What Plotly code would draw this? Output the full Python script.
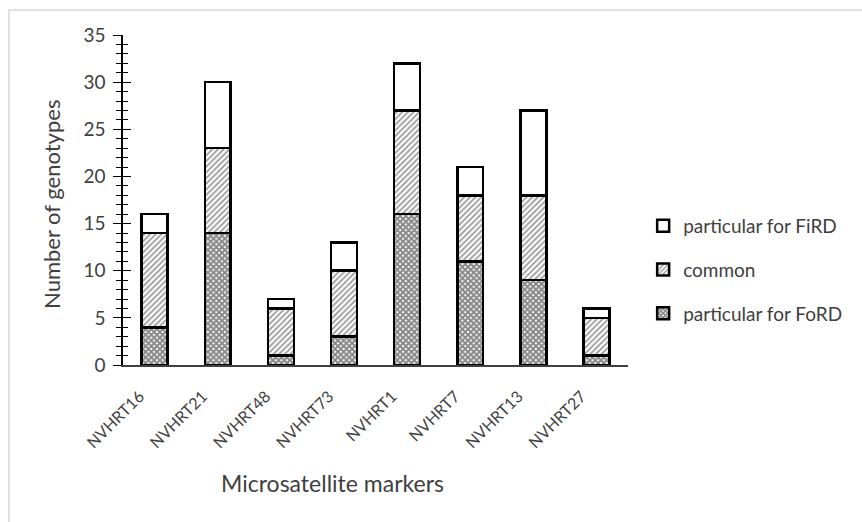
import plotly.graph_objects as go

markers = ["NVHRT16", "NVHRT21", "NVHRT48", "NVHRT73", "NVHRT1", "NVHRT7", "NVHRT13", "NVHRT27"]
ford = [4, 14, 1, 3, 16, 11, 9, 1]
common = [10, 9, 5, 7, 11, 7, 9, 4]
fird = [2, 7, 1, 3, 5, 3, 9, 1]
y_ticks = [0, 5, 10, 15, 20, 25, 30, 35]

FONT = "Lato, 'Open Sans', sans-serif"
TXT = "#404040"

fig = go.Figure()
fig.add_trace(go.Bar(
    x=markers, y=ford, name="particular for FoRD", legendgroup="c", legendrank=3,
    marker=dict(color="white", line=dict(color="black", width=2.5),
                pattern=dict(shape="x", size=4, solidity=0.75, fgcolor="#111", bgcolor="white")),
))
fig.add_trace(go.Bar(
    x=markers, y=common, name="common", legendgroup="b", legendrank=2,
    marker=dict(color="white", line=dict(color="black", width=2.5),
                pattern=dict(shape="/", size=4, solidity=0.45, fgcolor="#333", bgcolor="white")),
))
fig.add_trace(go.Bar(
    x=markers, y=fird, name="particular for FiRD", legendgroup="a", legendrank=1,
    marker=dict(color="white", line=dict(color="black", width=2.5)),
))
# helper for inner tick marks on the y axis
fig.add_trace(go.Scatter(x=[markers[0]], y=[0], yaxis="y2", mode="markers",
                         marker=dict(opacity=0), showlegend=False, hoverinfo="skip"))

fig.update_layout(
    width=862, height=522,
    margin=dict(l=123, r=234, t=35, b=157, autoexpand=False),
    paper_bgcolor="white", plot_bgcolor="white",
    barmode="stack", bargap=0.59,
    font=dict(family=FONT, color=TXT),
    xaxis=dict(showline=True, linecolor="#404040", linewidth=1.5, ticks="",
               tickangle=-45, tickfont=dict(size=16, color=TXT), showgrid=False,
               ticklabelstandoff=14, ticklabelshift=-15, automargin=False),
    yaxis=dict(range=[0, 35], tickvals=y_ticks, showline=True, linecolor="black", linewidth=1.5,
               ticks="outside", ticklen=8, tickwidth=1.2, tickcolor="black",
               minor=dict(ticks="outside", ticklen=5, dtick=1, tickcolor="black", tickwidth=1),
               tickfont=dict(size=19, color=TXT), showgrid=False, zeroline=False,
               ticklabelstandoff=4, automargin=False),
    yaxis2=dict(range=[0, 35], overlaying="y", side="left", tickvals=y_ticks,
                ticks="inside", ticklen=8, tickwidth=1.2, tickcolor="black",
                minor=dict(ticks="inside", ticklen=5, dtick=1, tickcolor="black", tickwidth=1),
                showticklabels=False, showline=False, showgrid=False, zeroline=False,
                automargin=False),
    legend=dict(x=1.03, y=0.288, xanchor="left", yanchor="middle", traceorder="grouped",
                tracegroupgap=16, font=dict(size=19, color=TXT), bgcolor="rgba(0,0,0,0)"),
    annotations=[
        dict(text="Number of genotypes", xref="paper", yref="paper", x=-0.1406, y=0.488,
             textangle=-90, showarrow=False, font=dict(size=22, color=TXT),
             xanchor="center", yanchor="middle"),
        dict(text="Microsatellite markers", xref="paper", yref="paper", x=0.414, y=-0.358,
             showarrow=False, font=dict(size=23, color=TXT), xanchor="center", yanchor="middle"),
    ],
    shapes=[dict(type="rect", xref="paper", yref="paper", x0=-0.2257, y0=-3, x1=3, y1=1.0758,
                 line=dict(color="#d9d9d9", width=1.5), fillcolor="rgba(0,0,0,0)", layer="below")],
)

fig.write_html("out.html", config={"displayModeBar": False},
               post_script="document.body.style.margin='0';")
